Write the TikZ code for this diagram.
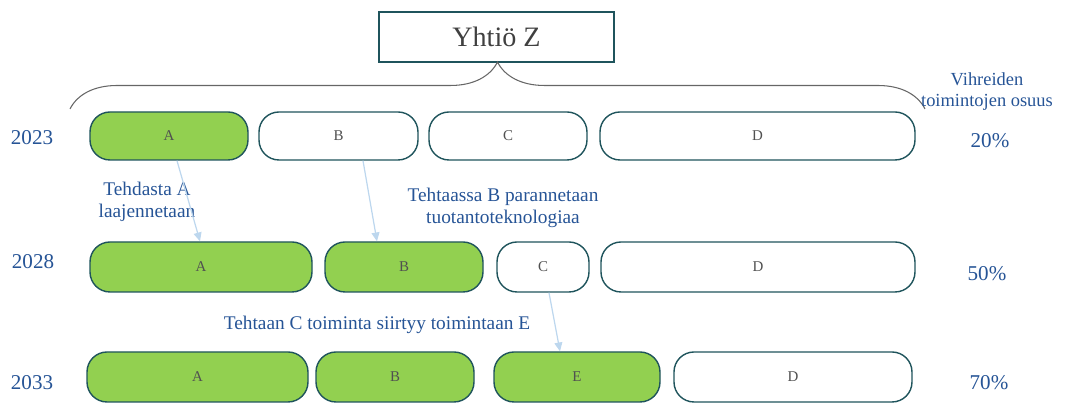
\documentclass[tikz,border=0pt]{standalone}
\usepackage{fontspec}
\setmainfont{Liberation Serif}
\usepackage{xcolor}
\usepackage{tikz}
\usetikzlibrary{
    positioning,
    arrows.meta,
    decorations.pathreplacing
}
\definecolor{boxedge}{RGB}{31,84,92}
\definecolor{greenfill}{RGB}{146,208,80}
\definecolor{labelblue}{RGB}{38,84,150}
\definecolor{arrowblue}{RGB}{189,215,238}
\definecolor{boxtext}{RGB}{80,80,80}
\tikzset{
    unit_box/.style={
        rectangle, draw=boxedge, line width=0.8pt,
        rounded corners=0.4cm, inner sep=0pt,
        font=\fontsize{8.5}{10}\selectfont, text=boxtext
    },
    green_box/.style={
        unit_box, fill=greenfill
    },
    white_box/.style={
        unit_box, fill=white
    }
}

\begin{document}
\begin{tikzpicture}[
    year_label/.style={font=\fontsize{12}{14}\selectfont, text=labelblue},
    share_label/.style={font=\fontsize{12}{14}\selectfont, text=labelblue, align=center},
    step_label/.style={font=\fontsize{11}{12.5}\selectfont, text=labelblue, align=center},
    step_arrow/.style={-{Triangle[length=5pt,width=4.5pt]}, draw=arrowblue, line width=0.7pt}
  ]

    \useasboundingbox (0,0) rectangle (21.78,8.06);

    \node[draw=boxedge, line width=0.8pt, minimum width=4.7cm, minimum height=1.0cm,
          font=\fontsize{16}{18}\selectfont, text=black!75] (company) at (9.93,7.32) {Yhtiö Z};
    \draw[gray!80!black, line width=0.6pt, decorate, decoration={brace, amplitude=0.94cm}]
        (1.4,5.88) -- (18.5,5.88);

    \node[share_label, font=\fontsize{10.5}{12}\selectfont] (share_title) at (19.74,6.22) {Vihreiden\\toimintojen osuus};

    % 2023
    \node[year_label] (y23) at (0.64,5.30) {2023};
    \node[green_box, minimum width=3.16cm, minimum height=0.96cm] (a23) at (3.38,5.34) {A};
    \node[white_box, minimum width=3.18cm, minimum height=0.96cm] (b23) at (6.77,5.34) {B};
    \node[white_box, minimum width=3.16cm, minimum height=0.96cm] (c23) at (10.16,5.34) {C};
    \node[white_box, minimum width=6.30cm, minimum height=0.96cm] (d23) at (15.15,5.34) {D};
    \node[share_label] (p23) at (19.80,5.24) {20\%};

    % 2028
    \node[year_label] (y28) at (0.66,2.82) {2028};
    \node[green_box, minimum width=4.44cm, minimum height=1.0cm] (a28) at (4.02,2.72) {A};
    \node[green_box, minimum width=3.16cm, minimum height=1.0cm] (b28) at (8.08,2.72) {B};
    \node[white_box, minimum width=1.84cm, minimum height=1.0cm] (c28) at (10.86,2.72) {C};
    \node[white_box, minimum width=6.28cm, minimum height=1.0cm] (d28) at (15.16,2.72) {D};
    \node[share_label] (p28) at (19.74,2.58) {50\%};

    % 2033
    \node[year_label] (y33) at (0.64,0.40) {2033};
    \node[green_box, minimum width=4.42cm, minimum height=1.0cm] (a33) at (3.95,0.52) {A};
    \node[green_box, minimum width=3.16cm, minimum height=1.0cm] (b33) at (7.90,0.52) {B};
    \node[green_box, minimum width=3.32cm, minimum height=1.0cm] (e33) at (11.54,0.52) {E};
    \node[white_box, minimum width=4.76cm, minimum height=1.0cm] (d33) at (15.86,0.52) {D};
    \node[share_label] (p33) at (19.78,0.40) {70\%};

    \node[step_label] (step_a) at (2.94,4.02) {Tehdasta A\\laajennetaan};
    \node[step_label] (step_b) at (10.06,3.90) {Tehtaassa B parannetaan\\tuotantoteknologiaa};
    \node[step_label] (step_c) at (7.54,1.56) {Tehtaan C toiminta siirtyy toimintaan E};

    \draw[step_arrow] ([xshift=0.16cm]a23.south) -- ([xshift=-0.02cm]a28.north);
    \draw[step_arrow] ([xshift=0.49cm]b23.south) -- ([xshift=-0.54cm]b28.north);
    \draw[step_arrow] ([xshift=0.12cm]c28.south) -- ([xshift=-0.34cm]e33.north);

\end{tikzpicture}
\end{document}
